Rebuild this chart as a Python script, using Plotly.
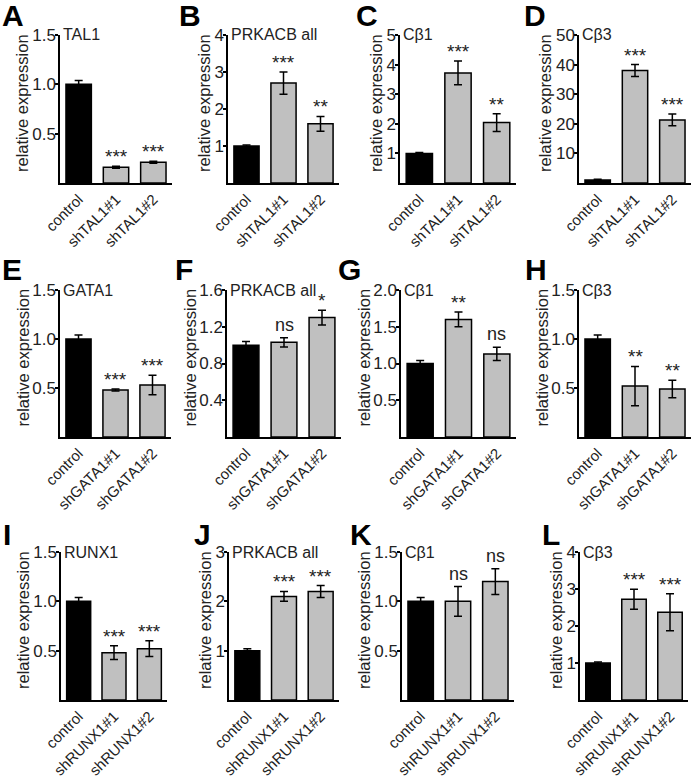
import plotly.graph_objects as go

W, H = 698, 776

letters = ["A", "B", "C", "D", "E", "F", "G", "H", "I", "J", "K", "L"]
genes = ["TAL1", "PRKACB all", "Cβ1", "Cβ3",
         "GATA1", "PRKACB all", "Cβ1", "Cβ3",
         "RUNX1", "PRKACB all", "Cβ1", "Cβ3"]
cats_tal1 = ["control", "shTAL1#1", "shTAL1#2"]
cats_gata1 = ["control", "shGATA1#1", "shGATA1#2"]
cats_runx1 = ["control", "shRUNX1#1", "shRUNX1#2"]
categories = [cats_tal1] * 4 + [cats_gata1] * 4 + [cats_runx1] * 4

values = [
    [1.0, 0.16, 0.21],
    [1.0, 2.7, 1.6],
    [1.0, 3.72, 2.04],
    [1.0, 38.0, 21.3],
    [1.0, 0.48, 0.53],
    [1.0, 1.03, 1.30],
    [1.0, 1.60, 1.13],
    [1.0, 0.52, 0.49],
    [1.0, 0.48, 0.52],
    [1.0, 2.10, 2.20],
    [1.0, 1.00, 1.20],
    [1.0, 2.72, 2.37],
]
errors = [
    [0.04, 0.01, 0.01],
    [0.03, 0.3, 0.2],
    [0.03, 0.4, 0.3],
    [0.3, 2.0, 2.0],
    [0.04, 0.01, 0.10],
    [0.04, 0.05, 0.08],
    [0.04, 0.10, 0.09],
    [0.04, 0.20, 0.09],
    [0.04, 0.07, 0.08],
    [0.04, 0.10, 0.12],
    [0.04, 0.15, 0.13],
    [0.03, 0.27, 0.50],
]
signif = [
    ["", "***", "***"], ["", "***", "**"], ["", "***", "**"], ["", "***", "***"],
    ["", "***", "***"], ["", "ns", "*"], ["", "**", "ns"], ["", "**", "**"],
    ["", "***", "***"], ["", "***", "***"], ["", "ns", "ns"], ["", "***", "***"],
]
ymax = [1.5, 4, 5, 50, 1.5, 1.6, 2.0, 1.5, 1.5, 3, 1.5, 4]
tickvals = [
    [0.5, 1.0, 1.5], [1, 2, 3, 4], [1, 2, 3, 4, 5], [10, 20, 30, 40, 50],
    [0.5, 1.0, 1.5], [0.4, 0.8, 1.2, 1.6], [0.5, 1.0, 1.5, 2.0], [0.5, 1.0, 1.5],
    [0.5, 1.0, 1.5], [1, 2, 3], [0.5, 1.0, 1.5], [1, 2, 3, 4],
]
ticktext = [
    ["0.5", "1.0", "1.5"], ["1", "2", "3", "4"], ["1", "2", "3", "4", "5"], ["10", "20", "30", "40", "50"],
    ["0.5", "1.0", "1.5"], ["0.4", "0.8", "1.2", "1.6"], ["0.5", "1.0", "1.5", "2.0"], ["0.5", "1.0", "1.5"],
    ["0.5", "1.0", "1.5"], ["1", "2", "3"], ["0.5", "1.0", "1.5"], ["1", "2", "3", "4"],
]
ytitle = "relative expression"

# layout geometry in pixels (x0, x1, ytop, ybottom)
geom = [
    (60, 172, 35, 183), (228, 339, 35, 183), (400, 516, 35, 183), (579, 691, 35, 183),
    (60, 171, 290, 437), (227, 341, 290, 437), (401, 516, 290, 437), (579, 691, 290, 437),
    (61, 167, 552, 700), (229, 339, 552, 700), (402, 514, 552, 700), (580, 688, 552, 700),
]
title_x = [22, 204, 376, 545, 22, 189, 363, 541, 23, 205, 364, 556]
letter_pos = [(0, -3), (177, -3), (354, -3), (522, -3),
              (0, 251), (173, 251), (336, 251), (523, 251),
              (1, 516), (192, 516), (348, 516), (540, 516)]

FONT = "Liberation Sans, Arial, sans-serif"
fig = go.Figure()
annotations = []

for i in range(12):
    n = "" if i == 0 else str(i + 1)
    x0, x1, yt, yb = geom[i]
    fig.add_trace(go.Bar(
        x=categories[i], y=values[i],
        marker=dict(color=["black", "#c0c0c0", "#c0c0c0"],
                    line=dict(color="black", width=1.5)),
        width=0.68,
        error_y=dict(type="data", array=errors[i], color="black",
                     thickness=1.5, width=4),
        xaxis="x" + n, yaxis="y" + n, showlegend=False,
    ))
    fig.update_layout(**{
        "xaxis" + n: dict(
            domain=[x0 / W, x1 / W], anchor="y" + n, automargin=False,
            type="category", range=[-0.5, 2.5],
            showline=True, linecolor="black", linewidth=1.5,
            ticks="", tickangle=-45, showgrid=False,
            tickfont=dict(size=15, color="#222", family=FONT),
        ),
        "yaxis" + n: dict(
            domain=[1 - yb / H, 1 - yt / H], anchor="x" + n, automargin=False,
            range=[0, ymax[i]], showline=True, linecolor="black",
            linewidth=1.5, ticks="outside", ticklen=3, tickwidth=1.5,
            tickcolor="black", tickvals=tickvals[i], ticktext=ticktext[i],
            showgrid=False, zeroline=False, ticklabelstandoff=-4,
            tickfont=dict(size=17, color="#222", family=FONT),
        ),
    })
    # y title
    annotations.append(dict(
        text=ytitle, xref="paper", yref="y" + n + " domain",
        x=title_x[i] / W, y=0.5, xanchor="center", yanchor="middle",
        yshift=6, textangle=-90, showarrow=False,
        font=dict(size=16.5, color="#222", family=FONT)))
    # gene label
    annotations.append(dict(
        text=genes[i], xref="x" + n + " domain", yref="y" + n + " domain",
        x=0, y=1, xanchor="left", yanchor="middle", xshift=1,
        showarrow=False, font=dict(size=16, color="#222", family=FONT)))
    # significance
    for j in range(3):
        if signif[i][j]:
            is_ns = signif[i][j] == "ns"
            annotations.append(dict(
                text=signif[i][j], xref="x" + n, yref="y" + n,
                x=categories[i][j], y=values[i][j] + errors[i][j],
                xanchor="center", yanchor="bottom",
                yshift=1 if is_ns else -3,
                showarrow=False,
                font=dict(size=18 if is_ns else 19,
                          color="#222", family=FONT)))
    # panel letter
    lx, ly = letter_pos[i]
    annotations.append(dict(
        text="<b>" + letters[i] + "</b>", xref="paper", yref="paper",
        x=lx / W, y=1 - ly / H, xanchor="left", yanchor="top",
        showarrow=False, font=dict(size=30, color="black", family=FONT)))

fig.update_layout(
    width=W, height=H, margin=dict(l=0, r=0, t=0, b=0, autoexpand=False),
    paper_bgcolor="white", plot_bgcolor="white",
    annotations=annotations, bargap=0.3,
    font=dict(family=FONT),
)
fig.write_html("out.html", config={"displayModeBar": False},
               post_script="document.body.style.margin='0';document.body.style.padding='0';")
